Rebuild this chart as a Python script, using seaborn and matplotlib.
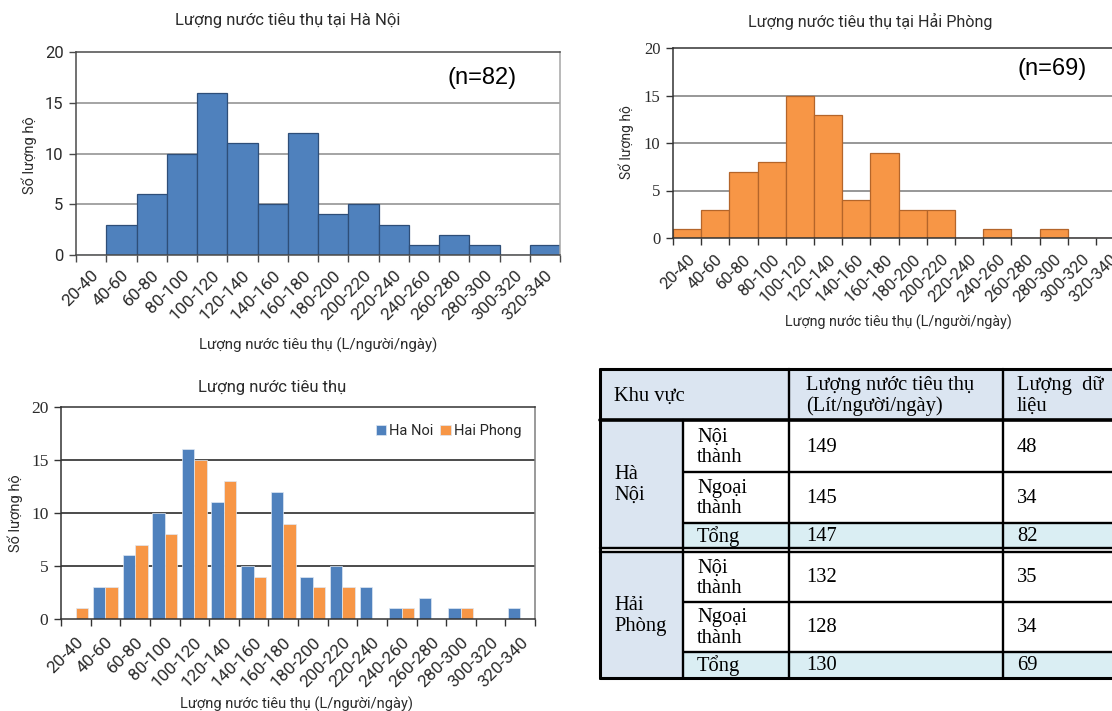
import numpy as np
import pandas as pd
import matplotlib
matplotlib.use("Agg")
import matplotlib.pyplot as plt
from matplotlib.patches import Rectangle
import seaborn as sns

# ---------------------------------------------------------------- data
bins = ["20-40", "40-60", "60-80", "80-100", "100-120", "120-140", "140-160",
        "160-180", "180-200", "200-220", "220-240", "240-260", "260-280",
        "280-300", "300-320", "320-340"]
hanoi_counts = [0, 3, 6, 10, 16, 11, 5, 12, 4, 5, 3, 1, 2, 1, 0, 1]
haiphong_counts = [1, 3, 7, 8, 15, 13, 4, 9, 3, 3, 0, 1, 0, 1, 0, 0]
hanoi_n = 82
haiphong_n = 69
series_names = ["Ha Noi", "Hai Phong"]
y_ticks = [0, 5, 10, 15, 20]

title_hanoi = "Lượng nước tiêu thụ tại Hà Nội"
title_haiphong = "Lượng nước tiêu thụ tại Hải Phòng"
title_both = "Lượng nước tiêu thụ"
x_label = "Lượng nước tiêu thụ (L/người/ngày)"
y_label = "Số lượng hộ"

# summary table
table_header = ["Khu vực", "Lượng nước tiêu thụ\n(Lít/người/ngày)", "Lượng  dữ\nliệu"]
cities = ["Hà\nNội", "Hải\nPhòng"]
zones = ["Nội\nthành", "Ngoại\nthành", "Tổng"]
hanoi_consumption = [149, 145, 147]
hanoi_records = [48, 34, 82]
haiphong_consumption = [132, 128, 130]
haiphong_records = [35, 34, 69]

# ---------------------------------------------------------------- style
BLUE = "#4F81BD"
BLUE_EDGE = "#2E4E78"
ORANGE = "#F79646"
ORANGE_EDGE = "#B4652A"
TEXT = "#2b2b2b"
HEAD_FILL = "#DBE5F1"
TOTAL_FILL = "#DAEEF3"

sns.set_theme(style="white")
plt.rcParams["font.family"] = ["Roboto", "DejaVu Sans"]
SERIF = ["Liberation Serif", "DejaVu Serif"]
ARIAL = ["Liberation Sans", "DejaVu Sans"]

W, H = 1112, 711
fig = plt.figure(figsize=(W / 100, H / 100), dpi=100)
fig.patch.set_facecolor("white")


def pix_rect(left, top, right, bottom):
    return [left / W, 1 - bottom / H, (right - left) / W, (bottom - top) / H]


def fig_text(x, y, s, **kw):
    kw.setdefault("color", TEXT)
    fig.text(x / W, 1 - y / H, s, **kw)


def style_count_axis(ax, grid_color, frame_color, right_color, ytick_family,
                     ytick_size, xtick_size, xpad):
    ax.set_xlim(-0.5, len(bins) - 0.5)
    ax.set_ylim(0, 20)
    ax.set_yticks(y_ticks)
    ax.set_yticklabels([str(v) for v in y_ticks], fontsize=ytick_size,
                       family=ytick_family, color=TEXT)
    for v in y_ticks[1:-1]:
        ax.axhline(v, color=grid_color, lw=1.1, zorder=0.5)
    ax.set_xticks(range(len(bins)))
    ax.set_xticklabels(bins, rotation=45, ha="right", rotation_mode="anchor",
                       fontsize=xtick_size, color=TEXT)
    ax.set_xticks(np.arange(len(bins) + 1) - 0.5, minor=True)
    ax.tick_params(axis="x", which="major", length=0, pad=xpad, bottom=True)
    ax.tick_params(axis="x", which="minor", length=5, width=1,
                   color=frame_color, direction="out", bottom=True)
    ax.tick_params(axis="y", which="major", length=5, width=1,
                   color=frame_color, direction="out", left=True, pad=4)
    for side in ("left", "bottom", "top"):
        ax.spines[side].set_color(frame_color)
        ax.spines[side].set_linewidth(1.1)
    ax.spines["right"].set_color(right_color)
    ax.spines["right"].set_linewidth(1.1)
    ax.set_xlabel("")
    ax.set_ylabel("")
    ax.set_facecolor("white")


# ---------------------------------------------------------------- Ha Noi histogram
ax1 = fig.add_axes(pix_rect(76, 52, 560, 255))
df_hn = pd.DataFrame({"bin": bins, "count": hanoi_counts})
sns.barplot(data=df_hn, x="bin", y="count", order=bins, color=BLUE,
            saturation=1, width=1.0, edgecolor=BLUE_EDGE, linewidth=0.9,
            ax=ax1)
style_count_axis(ax1, "#8c8c8c", "#4a4a4a", "#a6a6a6", None, 12, 12.5, 9)
ax1.text(0.84, 0.87, f"(n={hanoi_n})", transform=ax1.transAxes,
         ha="center", va="center", fontsize=17, family=ARIAL, color="black")
fig_text(288, 21, title_hanoi, ha="center", va="center", fontsize=12)
fig_text(318, 345, x_label, ha="center", va="center", fontsize=10.8)
fig_text(29, 155, y_label, ha="center", va="center", rotation=90, fontsize=10.5)

# ---------------------------------------------------------------- Hai Phong histogram
ax2 = fig.add_axes(pix_rect(673, 48, 673 + 16 * 28.2, 238))
df_hp = pd.DataFrame({"bin": bins, "count": haiphong_counts})
sns.barplot(data=df_hp, x="bin", y="count", order=bins, color=ORANGE,
            saturation=1, width=1.0, edgecolor=ORANGE_EDGE, linewidth=0.9,
            ax=ax2)
style_count_axis(ax2, "#7a7a7a", "#333333", "#333333", SERIF, 12, 12, 10)
ax2.text(0.84, 0.89, f"(n={haiphong_n})", transform=ax2.transAxes,
         ha="center", va="center", fontsize=17, family=ARIAL, color="black")
fig_text(870, 21, title_haiphong, ha="center", va="center", fontsize=11.6)
fig_text(898, 322, x_label, ha="center", va="center", fontsize=10.3)
fig_text(626, 142, y_label, ha="center", va="center", rotation=90, fontsize=10)

# ---------------------------------------------------------------- combined bars
ax3 = fig.add_axes(pix_rect(61, 407, 535, 619))
df_all = pd.DataFrame({
    "bin": bins * 2,
    "count": hanoi_counts + haiphong_counts,
    "city": [series_names[0]] * len(bins) + [series_names[1]] * len(bins),
})
sns.barplot(data=df_all, x="bin", y="count", hue="city", order=bins,
            hue_order=series_names, palette=[BLUE, ORANGE], saturation=1,
            width=0.84, edgecolor="#dfe8f3", linewidth=0.5, ax=ax3)
style_count_axis(ax3, "#1a1a1a", "#333333", "#7f7f7f", SERIF, 12.5, 12.5, 11)
handles, labels = ax3.get_legend_handles_labels()
ax3.legend(handles, labels, loc="center right", frameon=False, ncol=2,
           bbox_to_anchor=(521 / W, 1 - 431 / H), bbox_transform=fig.transFigure,
           handlelength=0.7, handleheight=0.7, handletextpad=0.2,
           columnspacing=0.5, fontsize=10.5, borderpad=0, borderaxespad=0)
fig_text(272, 388, title_both, ha="center", va="center", fontsize=12)
fig_text(296, 704, x_label, ha="center", va="center", fontsize=10.5)
fig_text(15, 513, y_label, ha="center", va="center", rotation=90, fontsize=10.5)

# ---------------------------------------------------------------- summary table
axt = fig.add_axes([0, 0, 1, 1])
axt.set_xlim(0, W)
axt.set_ylim(H, 0)
axt.axis("off")

col_x = [600, 683, 789, 1003, 1130]
top, head_bottom = 369, 420
blocks = [
    (cities[0], [420, 472, 523, 548], hanoi_consumption, hanoi_records),
    (cities[1], [552, 602, 652, 678], haiphong_consumption, haiphong_records),
]

# header fill
axt.add_patch(Rectangle((col_x[0], top), col_x[-1] - col_x[0],
                        head_bottom - top, facecolor=HEAD_FILL, edgecolor="none"))
for city, rows, cons, recs in blocks:
    axt.add_patch(Rectangle((col_x[0], rows[0]), col_x[1] - col_x[0],
                            rows[-1] - rows[0], facecolor=HEAD_FILL,
                            edgecolor="none"))
    axt.add_patch(Rectangle((col_x[1], rows[2]), col_x[-1] - col_x[1],
                            rows[3] - rows[2], facecolor=TOTAL_FILL,
                            edgecolor="none"))

LW = 1.7
tfont = dict(family=SERIF, fontsize=14.8, color="black", va="center",
             ha="left", linespacing=1.08)

# header text
axt.text(614, 396, table_header[0], **tfont)
axt.text(806, 396, table_header[1], **tfont)
axt.text(1017, 396, table_header[2], **tfont)

for city, rows, cons, recs in blocks:
    axt.text(614, (rows[0] + rows[-1]) / 2 + 1, city, **tfont)
    for i in range(3):
        yc = (rows[i] + rows[i + 1]) / 2 + 1
        axt.text(697, yc, zones[i], **tfont)
        axt.text(806, yc, str(cons[i]), **tfont)
        axt.text(1017, yc, str(recs[i]), **tfont)
    for yy in rows[1:3]:
        axt.plot([col_x[1], col_x[-1]], [yy, yy], color="black", lw=LW,
                 solid_capstyle="butt")

# outer and dividing lines
axt.plot([col_x[0], col_x[-1]], [top, top], color="black", lw=2.2)
axt.plot([col_x[0], col_x[-1]], [head_bottom, head_bottom], color="black", lw=2.6)
axt.plot([col_x[0], col_x[-1]], [548, 548], color="black", lw=LW)
axt.plot([col_x[0], col_x[-1]], [552, 552], color="black", lw=LW)
axt.plot([col_x[0], col_x[-1]], [678, 678], color="black", lw=2.2)
axt.plot([col_x[0], col_x[0]], [top, 678], color="black", lw=2.2)
axt.plot([col_x[1], col_x[1]], [head_bottom, 678], color="black", lw=LW)
axt.plot([col_x[2], col_x[2]], [top, 678], color="black", lw=LW)
axt.plot([col_x[3], col_x[3]], [top, 678], color="black", lw=LW)

fig.savefig("out.png", dpi=100, facecolor="white")
